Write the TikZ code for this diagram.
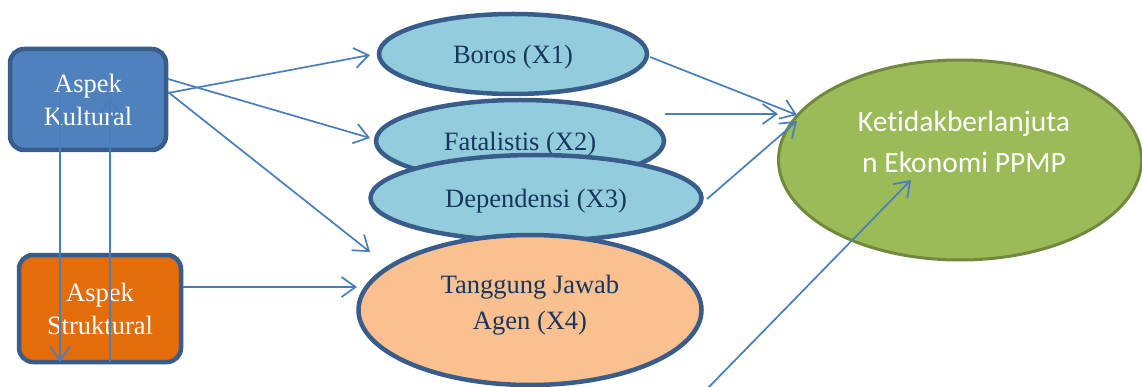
\documentclass[tikz,border=0pt]{standalone}
\usepackage{fontspec}
\setmainfont{Liberation Serif}
\newfontfamily\calfont[Ligatures=CommonOff]{Carlito}
\usetikzlibrary{arrows.meta,shapes.geometric}
\definecolor{kulfill}{HTML}{4F81BD}
\definecolor{strfill}{HTML}{E46C0A}
\definecolor{bord}{HTML}{385D8A}
\definecolor{lblue}{HTML}{93CDDD}
\definecolor{lorange}{HTML}{FAC090}
\definecolor{gfill}{HTML}{9BBB59}
\definecolor{gbord}{HTML}{71893F}
\definecolor{navy}{HTML}{17365D}
\definecolor{arrc}{HTML}{4A7EBB}
\begin{document}
\begin{tikzpicture}[x=1pt,y=-1pt,
  boxnode/.style={draw=bord, line width=4.5pt, rounded corners=14pt, text=white, align=center, inner sep=0pt, font=\fontsize{26.5}{33}\selectfont},
  ovalnode/.style={ellipse, draw=bord, line width=4.5pt, fill=lblue, text=navy, align=center, inner sep=0pt, text depth=0pt, font=\fontsize{26.5}{36}\selectfont},
  conn/.style={draw=arrc, line width=1.7pt, -{Straight Barb[length=14pt,width=20pt]}}
]
\useasboundingbox (0,0) rectangle (1142,387);
% boxes
\node[boxnode, fill=kulfill, minimum width=156pt, minimum height=101pt] (kul) at (88,99.5) {Aspek\\Kultural};
\node[boxnode, fill=strfill, minimum width=162pt, minimum height=107pt] (str) at (100,308.5) {Aspek\\Struktural};
% ellipses
\node[ovalnode, minimum width=268pt, minimum height=80pt] (boros) at (513,54) {Boros (X1)};
\node[ovalnode, minimum width=288pt, minimum height=82pt] (fat) at (520,141) {Fatalistis (X2)};
\node[ovalnode, minimum width=331pt, minimum height=86pt] (dep) at (536,198) {Dependensi (X3)};
\node[ovalnode, fill=lorange, minimum width=343pt, minimum height=150pt] (tang) at (530,310) {};
\node[text=navy, align=center, inner sep=0pt, font=\fontsize{26.5}{36}\selectfont] (tangtext) at (530,305) {Tanggung Jawab\\Agen (X4)};
\node[ellipse, draw=gbord, line width=3pt, fill=gfill, inner sep=0pt, minimum width=363pt, minimum height=200pt] (ket) at (960,160) {};
\node[text=white, align=center, inner sep=0pt, font=\calfont\fontsize{29.5}{41}\selectfont] (kettext) at (964,142) {Ketidakberlanjuta\\n Ekonomi PPMP};
% connector end points
\coordinate (kulA) at (168,93);  \coordinate (borosIn) at (370,55);
\coordinate (kulB) at (168,79);  \coordinate (fatIn) at (370,138);
\coordinate (kulC) at (168,92);  \coordinate (tangIn) at (370,252);
\coordinate (strA) at (183,287); \coordinate (tangW) at (357,287);
\coordinate (kulD) at (60,95);   \coordinate (strD) at (60,362);
\coordinate (strU) at (110,362); \coordinate (kulU) at (110,98);
\coordinate (borosE) at (650,57); \coordinate (ketA) at (797,115);
\coordinate (fatE) at (665,114);  \coordinate (ketB) at (778,114);
\coordinate (depE) at (707,199);  \coordinate (ketC) at (797,121);
\coordinate (extS) at (706,390);  \coordinate (ketD) at (911,180);
% connectors
\draw[conn] (kulA) -- (borosIn);
\draw[conn] (kulB) -- (fatIn);
\draw[conn] (kulC) -- (tangIn);
\draw[conn] (strA) -- (tangW);
\draw[conn] (kulD) -- (strD);
\draw[conn] (strU) -- (kulU);
\draw[conn] (borosE) -- (ketA);
\draw[conn] (fatE) -- (ketB);
\draw[conn] (depE) -- (ketC);
\draw[conn] (extS) -- (ketD);
\end{tikzpicture}
\end{document}
